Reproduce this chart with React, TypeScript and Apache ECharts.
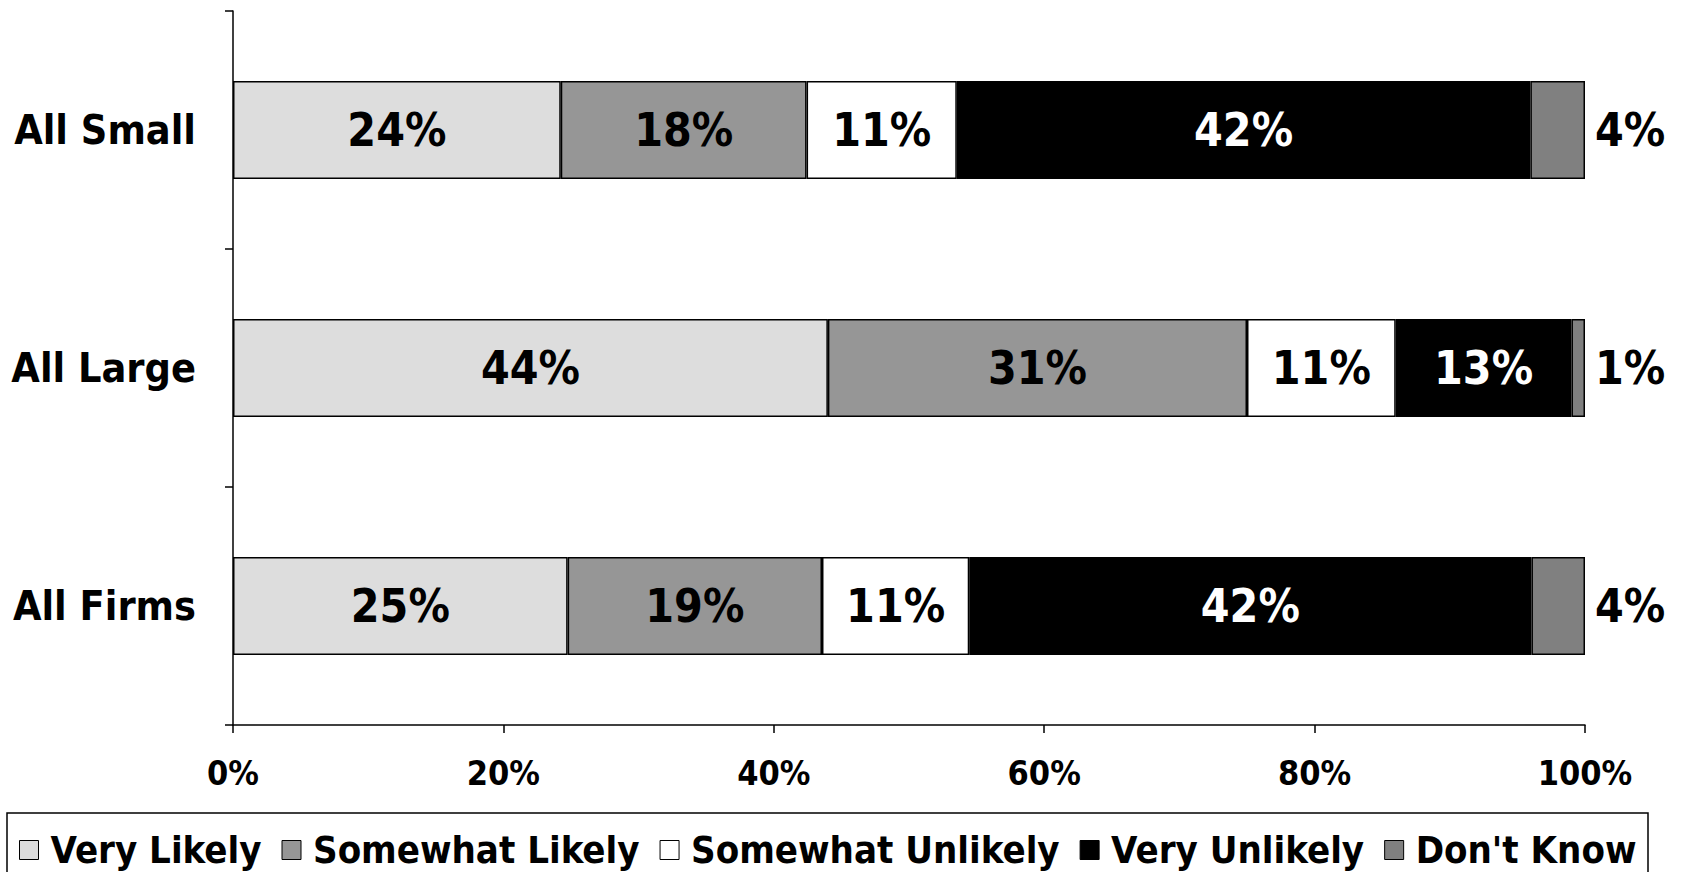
import React, { useEffect, useRef } from "react";
import * as echarts from "echarts";

// Categories, listed bottom-to-top as the category axis draws them
const categories = ["All Firms", "All Large", "All Small"];

// Survey answers per group (percent, as labelled)
const veryLikely = [25, 44, 24];
const somewhatLikely = [19, 31, 18];
const somewhatUnlikely = [11, 11, 11];
const veryUnlikely = [42, 13, 42];
const dontKnow = [4, 1, 4];

const seriesNames = [
  "Very Likely",
  "Somewhat Likely",
  "Somewhat Unlikely",
  "Very Unlikely",
  "Don't Know",
];
const seriesValues = [veryLikely, somewhatLikely, somewhatUnlikely, veryUnlikely, dontKnow];
const seriesColors = ["#DDDDDD", "#969696", "#FFFFFF", "#000000", "#808080"];
const labelColors = ["#000", "#000", "#000", "#fff", "#000"];

const xTicks = [0, 20, 40, 60, 80, 100];

const FONT = "'DejaVu Sans Condensed', 'DejaVu Sans', sans-serif";

export default function App() {
  const ref = useRef<HTMLDivElement>(null);

  useEffect(() => {
    if (!ref.current) return;
    const chart = echarts.init(ref.current, undefined, { renderer: "svg" });

    // 100% stacked: each group's answers are scaled to their own total
    const totals = categories.map((_, i) =>
      seriesValues.reduce((s, arr) => s + arr[i], 0)
    );

    const series = seriesNames.map((name, si) => {
      const isLast = si === seriesNames.length - 1;
      return {
        name,
        type: "bar",
        stack: "total",
        barWidth: 98,
        data: seriesValues[si].map((v, i) => ({
          value: (v / totals[i]) * 100,
        })),
        itemStyle: {
          color: seriesColors[si],
          borderColor: "#000",
          borderWidth: 1.5,
        },
        label: {
          show: true,
          position: isLast ? "right" : "inside",
          distance: 10,
          color: labelColors[si],
          fontFamily: FONT,
          fontWeight: "bold",
          fontSize: 46,
          formatter: (p: any) => `${seriesValues[si][p.dataIndex]}%`,
        },
      };
    });

    chart.setOption({
      animation: false,
      backgroundColor: "#fff",
      grid: {
        left: 233,
        right: 96,
        top: 11,
        bottom: 147,
        containLabel: false,
      },
      xAxis: {
        type: "value",
        min: 0,
        max: 100,
        interval: 20,
        axisLine: { show: true, lineStyle: { color: "#000", width: 1.5 } },
        axisTick: { show: true, length: 8, lineStyle: { color: "#000", width: 1.5 } },
        splitLine: { show: false },
        axisLabel: {
          margin: 31,
          color: "#000",
          fontFamily: FONT,
          fontWeight: "bold",
          fontSize: 34,
          formatter: (v: number) => (xTicks.includes(v) ? `${v}%` : ""),
        },
      },
      yAxis: {
        type: "category",
        data: categories,
        axisLine: { show: true, lineStyle: { color: "#000", width: 1.5 } },
        axisTick: { show: true, length: 8, lineStyle: { color: "#000", width: 1.5 } },
        axisLabel: {
          margin: 37,
          color: "#000",
          fontFamily: FONT,
          fontWeight: "bold",
          fontSize: 41,
        },
      },
      legend: {
        data: seriesNames,
        left: 19,
        top: 831,
        icon: "rect",
        itemWidth: 19,
        itemHeight: 19,
        itemGap: 20,
        padding: 0,
        itemStyle: { borderColor: "#000", borderWidth: 1 },
        textStyle: {
          color: "#000",
          fontFamily: FONT,
          fontWeight: "bold",
          fontSize: 38,
          padding: [0, 0, 0, 7],
        },
      },
      graphic: [
        {
          type: "rect",
          shape: { x: 7, y: 813, width: 1641, height: 80 },
          style: { fill: "none", stroke: "#000", lineWidth: 1.5 },
          silent: true,
        },
      ],
      series,
    });

    return () => chart.dispose();
  }, []);

  return (
    <div
      ref={ref}
      style={{ position: "absolute", left: 0, top: 0, width: 1681, height: 872 }}
    />
  );
}
